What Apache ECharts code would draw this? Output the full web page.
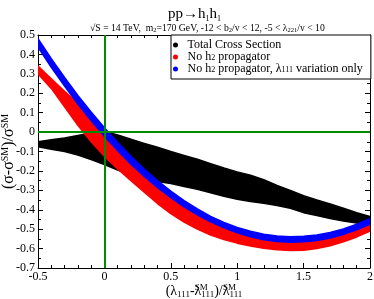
<!DOCTYPE html>
<html><head><meta charset="utf-8">
<script src="https://cdn.jsdelivr.net/npm/echarts@6/dist/echarts.min.js"></script>
<style>html,body{margin:0;padding:0;background:#fff}#c{width:374px;height:299px}</style>
</head><body><div id="c"></div>
<script>
// x = (lambda111 - lambda111^SM)/lambda111^SM
const xVals = [-0.5,-0.4,-0.3,-0.2,-0.1,0.0,0.1,0.2,0.3,0.4,0.5,0.6,0.7,0.8,0.9,1.0,1.1,1.2,1.3,1.4,1.5,1.6,1.7,1.8,1.9,2.0];
// Total Cross Section band (black)
const totalTop    = [-0.050,-0.040,-0.030,-0.018,-0.005,0.003,-0.015,-0.037,-0.058,-0.078,-0.100,-0.120,-0.140,-0.163,-0.185,-0.205,-0.222,-0.245,-0.275,-0.300,-0.328,-0.350,-0.370,-0.392,-0.415,-0.435];
const totalBottom = [-0.075,-0.088,-0.100,-0.118,-0.142,-0.167,-0.195,-0.222,-0.240,-0.255,-0.265,-0.280,-0.295,-0.312,-0.330,-0.346,-0.357,-0.367,-0.378,-0.392,-0.415,-0.430,-0.445,-0.458,-0.468,-0.478];
// No h2 propagator band (red)
const noH2Top     = [0.340,0.275,0.210,0.150,0.065,-0.015,-0.090,-0.160,-0.222,-0.280,-0.333,-0.381,-0.423,-0.460,-0.492,-0.518,-0.538,-0.553,-0.562,-0.566,-0.564,-0.557,-0.544,-0.526,-0.502,-0.472];
const noH2Bottom  = [0.300,0.225,0.130,0.035,-0.050,-0.125,-0.190,-0.250,-0.310,-0.368,-0.420,-0.464,-0.500,-0.530,-0.553,-0.572,-0.587,-0.598,-0.606,-0.610,-0.608,-0.600,-0.585,-0.565,-0.540,-0.510];
// No h2 propagator, lambda111 variation only band (blue)
const lambdaOnlyTop    = [0.481,0.378,0.281,0.189,0.103,0.022,-0.054,-0.125,-0.190,-0.250,-0.304,-0.353,-0.396,-0.434,-0.465,-0.491,-0.511,-0.526,-0.535,-0.539,-0.537,-0.530,-0.517,-0.499,-0.475,-0.446];
const lambdaOnlyBottom = [0.437,0.334,0.237,0.145,0.059,-0.022,-0.096,-0.165,-0.228,-0.286,-0.338,-0.385,-0.426,-0.462,-0.493,-0.519,-0.539,-0.554,-0.563,-0.567,-0.565,-0.558,-0.545,-0.527,-0.503,-0.474];
const seriesNames = ['Total Cross Section','No h2 propagator','No h2 propagator, λ111 variation only'];
const legendRich = ['Total Cross Section','No h{s|2} propagator','No h{s|2} propagator, λ{s|111} variation only'];

const FONT = 'Liberation Serif';
const chart = echarts.init(document.getElementById('c'), null, {renderer:'canvas'});

function band(name, color, top, bottom, z) {
  const rows = xVals.map((x, i) => [x, bottom[i], top[i]]);
  return {
    type: 'custom', name: name, z: z, clip: true,
    itemStyle: {color: color},
    data: rows,
    encode: {x: 0, y: [1, 2]},
    renderItem: function (params, api) {
      if (params.dataIndex !== 0) return null;
      const pts = [];
      for (let i = 0; i < rows.length; i++) pts.push(api.coord([rows[i][0], rows[i][2]]));
      for (let i = rows.length - 1; i >= 0; i--) pts.push(api.coord([rows[i][0], rows[i][1]]));
      return {type: 'polygon', shape: {points: pts}, style: {fill: color, stroke: color, lineWidth: 1.5, lineJoin: 'round'}};
    }
  };
}

function axisCommon(extra) {
  return Object.assign({
    type: 'value',
    nameMoveOverlap: false,
    axisLine: {show: true, onZero: false, lineStyle: {color: '#000', width: 1}},
    axisTick: {show: true, inside: true, length: 5, lineStyle: {color: '#000', width: 1}},
    minorTick: {show: true, length: 3, lineStyle: {color: '#000', width: 1}},
    splitLine: {show: false},
    minorSplitLine: {show: false}
  }, extra);
}

const labelStyle = {color: '#000', fontFamily: FONT, fontSize: 12};

const option = {
  animation: false,
  backgroundColor: '#fff',
  title: [
    {text: '{m|pp→h}{s|1}{m|h}{s|1}', left: 163, top: 0,
     textStyle: {fontWeight: 'normal', rich: {m: {fontFamily: FONT, fontSize: 15, fontWeight: 'normal', color: '#000', lineHeight: 18},
                        s: {fontFamily: FONT, fontSize: 8, fontWeight: 'normal', color: '#000', verticalAlign: 'bottom', lineHeight: 8}}}},
    {text: '{n|√S = 14 TeV,  m}{s|2}{n|=170 GeV, -12 < b}{s|2}{n|/v < 12, -5 < λ}{s|221}{n|/v < 10}', left: 85, top: 18,
     textStyle: {fontWeight: 'normal',
       rich: {n: {fontFamily: FONT, fontSize: 9.7, fontWeight: 'normal', color: '#000', lineHeight: 11},
              s: {fontFamily: FONT, fontSize: 6.5, fontWeight: 'normal', color: '#000', verticalAlign: 'bottom', lineHeight: 6}}}}
  ],
  grid: {left: 38, right: 4, top: 35, bottom: 31, containLabel: false, outerBoundsMode: 'none'},
  legend: {
    orient: 'vertical', left: 171, top: 35,
    data: seriesNames,
    icon: 'circle', itemWidth: 14, itemHeight: 5, itemGap: 0,
    padding: [4, 8, 4, 2],
    backgroundColor: '#fff', borderColor: '#000', borderWidth: 1, borderRadius: 0,
    selectedMode: false,
    formatter: function (name) { return legendRich[seriesNames.indexOf(name)]; },
    textStyle: {fontFamily: FONT, fontSize: 12, color: '#000', lineHeight: 10,
      rich: {s: {fontFamily: FONT, fontSize: 8, color: '#000', verticalAlign: 'bottom', lineHeight: 8}}}
  },
  xAxis: [
    axisCommon({min: -0.5, max: 2, interval: 0.5, position: 'bottom',
      minorTick: {show: true, splitNumber: 5, length: 3, lineStyle: {color: '#000', width: 1}},
      axisLabel: Object.assign({margin: 3}, labelStyle),
      name: '{m|(λ}{b|111}{m|-λ}{t|SM}{b|111}{m|)/λ}{t|SM}{b|111}',
      nameLocation: 'middle', nameGap: 15,
      nameTextStyle: {rich: {
        m: {fontFamily: FONT, fontSize: 14, color: '#000', lineHeight: 16},
        t: {fontFamily: FONT, fontSize: 9, color: '#000', verticalAlign: 'top', width: 0, lineHeight: 9},
        b: {fontFamily: FONT, fontSize: 9, color: '#000', verticalAlign: 'bottom', lineHeight: 9}}}}),
    axisCommon({min: -0.5, max: 2, interval: 0.5, position: 'top',
      minorTick: {show: true, splitNumber: 5, length: 3, lineStyle: {color: '#000', width: 1}},
      axisLabel: {show: false}})
  ],
  yAxis: [
    axisCommon({min: -0.7, max: 0.5, interval: 0.1, position: 'left',
      minorTick: {show: true, splitNumber: 2, length: 3, lineStyle: {color: '#000', width: 1}},
      axisLabel: Object.assign({margin: 3}, labelStyle),
      name: '{m|(σ-σ}{t|SM}{m|)/σ}{t|SM}',
      nameLocation: 'middle', nameGap: 21, nameRotate: 90,
      nameTextStyle: {rich: {
        m: {fontFamily: FONT, fontSize: 16, color: '#000', lineHeight: 17},
        t: {fontFamily: FONT, fontSize: 10, color: '#000', verticalAlign: 'top', lineHeight: 10}}}}),
    axisCommon({min: -0.7, max: 0.5, interval: 0.1, position: 'right',
      minorTick: {show: true, splitNumber: 2, length: 3, lineStyle: {color: '#000', width: 1}},
      axisLabel: {show: false}})
  ],
  series: [
    band(seriesNames[0], '#000000', totalTop, totalBottom, 2),
    band(seriesNames[1], '#ff0000', noH2Top, noH2Bottom, 3),
    band(seriesNames[2], '#0000ff', lambdaOnlyTop, lambdaOnlyBottom, 4),
    {type: 'line', name: 'zero', data: [], z: 6, silent: true,
     markLine: {silent: true, symbol: 'none', animation: false,
       label: {show: false},
       lineStyle: {color: '#008b00', width: 2, type: 'solid'},
       data: [{xAxis: 0}, {yAxis: 0}]}}
  ]
};
chart.setOption(option);
</script></body></html>
